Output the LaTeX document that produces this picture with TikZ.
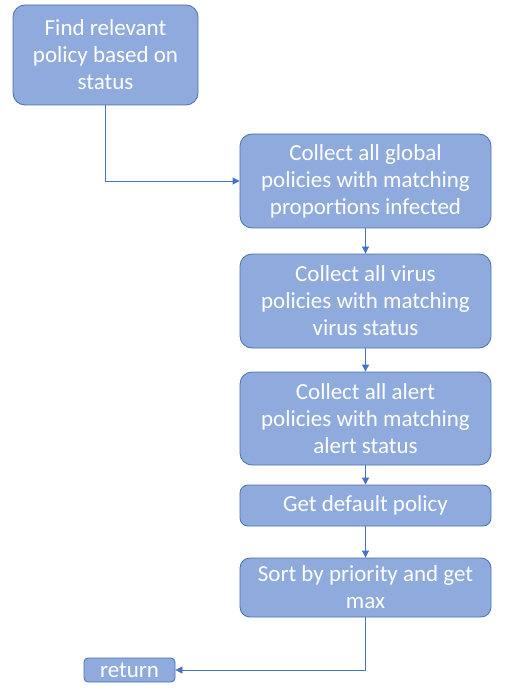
\documentclass[tikz,border=0pt]{standalone}
\usepackage{fontspec}
\setmainfont{Carlito}
\usetikzlibrary{arrows.meta}
\definecolor{boxfill}{HTML}{8FAADC}
\definecolor{boxline}{HTML}{4A6FB0}
\definecolor{arrowcol}{HTML}{4472C4}
\begin{document}
\begin{tikzpicture}[x=1pt,y=-1pt,
  stepbox/.style={draw=boxline,line width=0.8pt,fill=boxfill,text=white,rounded corners=12pt,
    align=center,inner sep=0pt,font=\fontsize{23}{27}\selectfont},
  conn/.style={draw=arrowcol,line width=0.8pt,-{Triangle[length=7pt,width=7pt]}}]
\useasboundingbox (0,0) rectangle (522,700);
\node[stepbox,minimum width=185pt,minimum height=100pt] (find) at (105.5,55) {Find relevant\\policy based on\\status};
\node[stepbox,minimum width=251pt,minimum height=94pt] (glob) at (365.5,181) {Collect all global\\policies with matching\\proportions infected};
\node[stepbox,minimum width=251pt,minimum height=94pt] (virus) at (365.5,301) {Collect all virus\\policies with matching\\virus status};
\node[stepbox,minimum width=251pt,minimum height=93pt] (alert) at (365.5,418.5) {Collect all alert\\policies with matching\\alert status};
\node[stepbox,rounded corners=8pt,minimum width=251pt,minimum height=41pt] (def) at (365.5,505.5) {Get default policy};
\node[stepbox,rounded corners=10pt,minimum width=251pt,minimum height=59pt] (sort) at (365.5,587.5) {Sort by priority and get\\max};
\node[stepbox,rounded corners=4pt,minimum width=91pt,minimum height=24pt] (ret) at (129.5,670) {return};
\coordinate (c1) at (find.south |- glob.west);
\draw[conn] (find.south) -- (c1) -- (glob.west);
\draw[conn] (glob.south) -- (virus.north);
\draw[conn] (virus.south) -- (alert.north);
\draw[conn] (alert.south) -- (def.north);
\draw[conn] (def.south) -- (sort.north);
\coordinate (c2) at (sort.south |- ret.east);
\draw[conn] (sort.south) -- (c2) -- (ret.east);
\end{tikzpicture}
\end{document}
